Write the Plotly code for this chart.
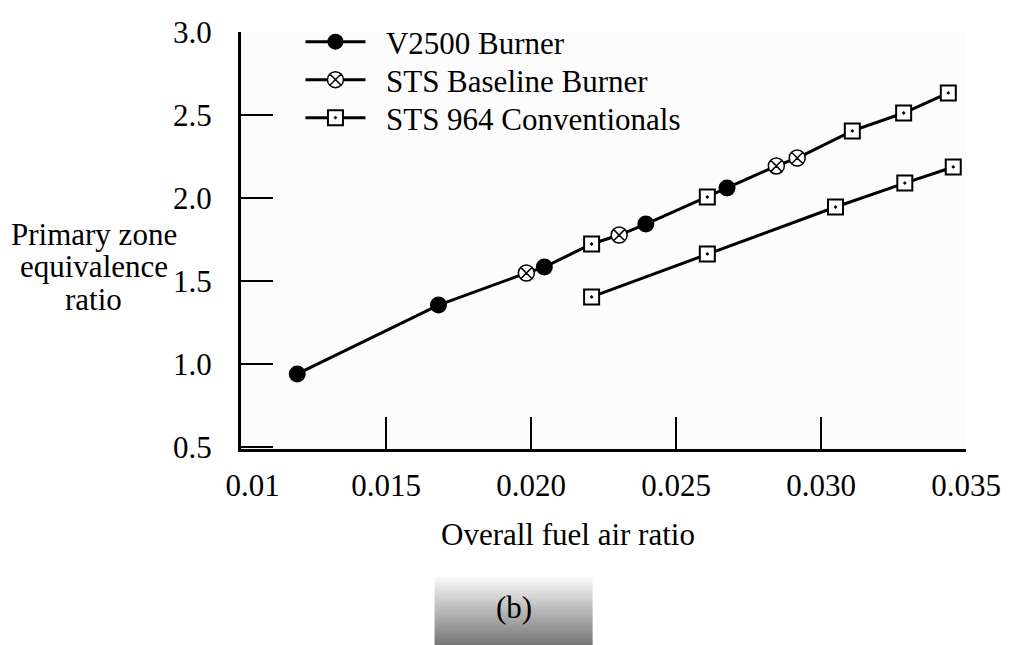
import plotly.graph_objects as go

# ---- data ----
v2500_x = [0.01194, 0.01681, 0.02046, 0.02396, 0.02676]
v2500_y = [0.94, 1.355, 1.584, 1.843, 2.06]

baseline_x = [0.01984, 0.02304, 0.02846, 0.02918]
baseline_y = [1.548, 1.777, 2.193, 2.241]

sts964_upper_x = [0.02209, 0.02608, 0.03108, 0.03285, 0.03439]
sts964_upper_y = [1.723, 2.006, 2.404, 2.512, 2.633]

sts964_lower_x = [0.02209, 0.02608, 0.0305, 0.03289, 0.03456]
sts964_lower_y = [1.404, 1.663, 1.946, 2.09, 2.187]

x_ticks = [0.01, 0.015, 0.020, 0.025, 0.030, 0.035]
x_tick_text = ["\u00a0\u00a0\u00a00.01", "0.015", "0.020", "0.025", "0.030", "0.035"]
y_ticks = [0.5, 1.0, 1.5, 2.0, 2.5, 3.0]
y_tick_text = ["0.5", "1.0", "1.5", "2.0", "2.5", "3.0"]

series_names = ["V2500 Burner", "STS Baseline Burner", "STS 964 Conventionals"]
y_title_lines = ["Primary zone", "equivalence", "ratio"]
x_title = "Overall fuel air ratio"
panel_label = "(b)"

FONT = "Liberation Serif"
FS = 31
F = dict(family=FONT, size=FS, color="black")
PAD = "\u00a0\u00a0"

fig = go.Figure()

# combined upper curve through all points of the three series
upper = sorted(zip(v2500_x + baseline_x + sts964_upper_x,
                   v2500_y + baseline_y + sts964_upper_y))
fig.add_trace(go.Scatter(x=[p[0] for p in upper], y=[p[1] for p in upper],
                         mode="lines", line=dict(color="black", width=3),
                         showlegend=False, hoverinfo="skip"))
fig.add_trace(go.Scatter(x=sts964_lower_x, y=sts964_lower_y, mode="lines",
                         line=dict(color="black", width=3),
                         showlegend=False, hoverinfo="skip"))

sq = dict(symbol="square-dot", size=15, color="white",
          line=dict(color="black", width=2))
circ = dict(symbol="circle", size=17, color="black")
cx = dict(symbol="circle-x", size=16, color="white",
          line=dict(color="black", width=1.5))

fig.add_trace(go.Scatter(x=v2500_x, y=v2500_y, mode="markers",
                         marker=circ, showlegend=False))
fig.add_trace(go.Scatter(x=baseline_x, y=baseline_y, mode="markers",
                         marker=cx, showlegend=False))
fig.add_trace(go.Scatter(x=sts964_upper_x, y=sts964_upper_y, mode="markers",
                         marker=sq, showlegend=False))
fig.add_trace(go.Scatter(x=sts964_lower_x, y=sts964_lower_y, mode="markers",
                         marker=sq, showlegend=False))

# legend entries, one small legend each so the row spacing can match
legend_ids = ["legend", "legend2", "legend3"]
legend_rows_px = [42, 80, 118]
for name, mk, lid in zip(series_names, [circ, cx, sq], legend_ids):
    fig.add_trace(go.Scatter(x=[None], y=[None], mode="lines+markers",
                             name=PAD + name, legend=lid,
                             line=dict(color="black", width=3), marker=mk))

# gradient box behind "(b)"
shapes = []
n = 34
y_top, y_bot = -0.307, -0.470
for i in range(n):
    t = i / (n - 1)
    g = int(248 - 128 * t)
    shapes.append(dict(type="rect", xref="paper", yref="paper",
                       x0=0.267, x1=0.485,
                       y0=y_top + (y_bot - y_top) * i / n,
                       y1=y_top + (y_bot - y_top) * (i + 1) / n,
                       line=dict(width=0),
                       fillcolor=f"rgb({g},{g},{g})", layer="below"))

PLOT_TOP, PLOT_H = 32, 417
legends = {}
for lid, py in zip(legend_ids, legend_rows_px):
    legends[lid] = dict(x=0.082, y=1 - (py - PLOT_TOP) / PLOT_H,
                        xanchor="left", yanchor="middle",
                        bgcolor="rgba(255,255,255,0)", itemwidth=60,
                        font=F, borderwidth=0)

annotations = [
    dict(text=x_title, xref="paper", yref="paper",
         x=0.451, y=-0.206, showarrow=False, xanchor="center",
         yanchor="middle", font=F),
    dict(text=panel_label, xref="paper", yref="paper", x=0.376, y=-0.379,
         showarrow=False, xanchor="center", yanchor="middle", font=F),
]
for line, py in zip(y_title_lines, [234, 266, 299]):
    annotations.append(dict(text=line, xref="paper", yref="paper",
                            x=-0.203, y=1 - (py - PLOT_TOP) / PLOT_H,
                            showarrow=False, xanchor="center",
                            yanchor="middle", font=F))

fig.update_layout(
    width=1013, height=645,
    margin=dict(l=241, r=38, t=32, b=196),
    paper_bgcolor="white", plot_bgcolor="#fcfcfc",
    font=F,
    shapes=shapes,
    annotations=annotations,
    **legends,
)

fig.update_xaxes(range=[0.01, 0.035], tickvals=x_ticks, ticktext=x_tick_text,
                 ticks="inside", ticklen=32, tickwidth=2, tickcolor="black",
                 showline=True, linecolor="black", linewidth=3,
                 showgrid=False, zeroline=False, mirror=False,
                 ticklabelstandoff=7, tickfont=F)
fig.update_yaxes(range=[0.488, 3.0], tickvals=y_ticks, ticktext=y_tick_text,
                 ticks="inside", ticklen=32, tickwidth=2, tickcolor="black",
                 showline=True, linecolor="black", linewidth=3,
                 showgrid=False, zeroline=False, mirror=False,
                 ticklabelstandoff=20, tickfont=F)

fig.write_html("out.html")
